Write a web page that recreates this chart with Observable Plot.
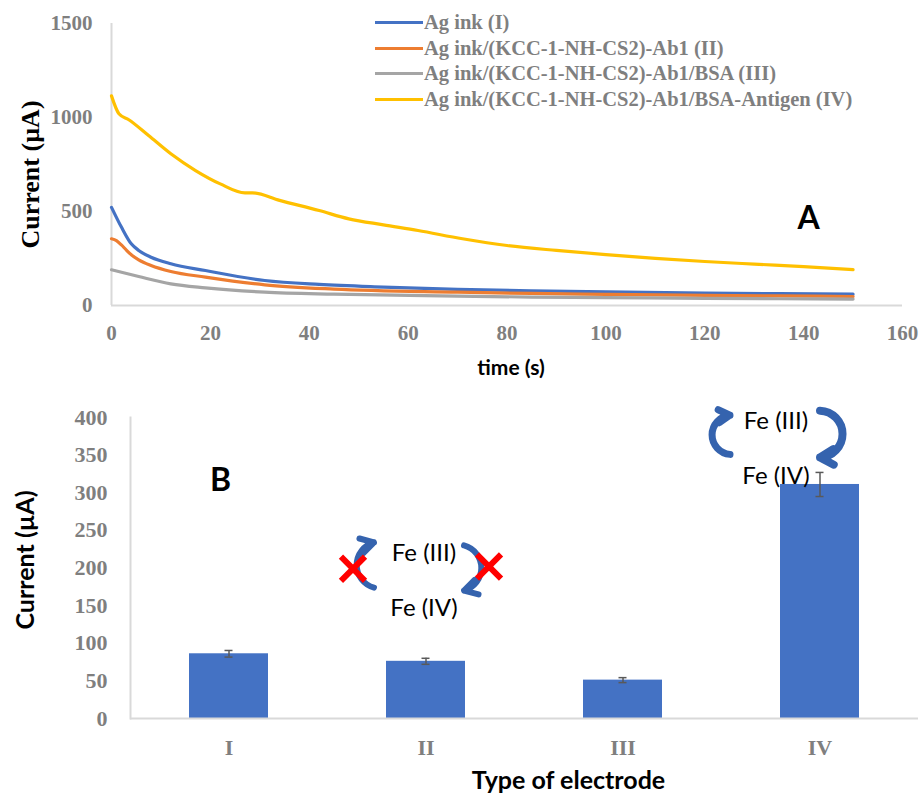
<!DOCTYPE html>
<html><head><meta charset="utf-8">
<script src="https://cdn.jsdelivr.net/npm/d3@7"></script>
<script src="https://cdn.jsdelivr.net/npm/@observablehq/plot@0.6"></script>
<style>
body{margin:0;background:#fff;}
#wrap{position:relative;width:921px;height:795px;overflow:hidden;background:#fff;}
#legend{position:absolute;left:375px;top:10px;font-family:"Liberation Serif","Times New Roman",serif;font-weight:bold;font-size:20.5px;color:#7f7f7f;line-height:25.5px;}
.row{display:flex;align-items:center;white-space:nowrap;}
.sw{width:48px;height:3px;margin-right:1px;}
#top,#bottom{position:absolute;left:0;}
#top{top:0;} #bottom{top:385px;}
</style></head>
<body><div id="wrap"><div id="top"></div><div id="bottom"></div><div id="legend"></div></div>
<script>
// ---------- Panel A data ----------
const seriesNames = ["Ag ink (I)", "Ag ink/(KCC-1-NH-CS2)-Ab1 (II)", "Ag ink/(KCC-1-NH-CS2)-Ab1/BSA (III)", "Ag ink/(KCC-1-NH-CS2)-Ab1/BSA-Antigen (IV)"];
const seriesColors = ["#4472C4", "#ED7D31", "#A5A5A5", "#FFC000"];
const tI = [0, 2, 4, 5.5, 8, 12, 19, 31, 42, 55, 70, 85, 100, 120, 135, 150];
const vI = [522, 417, 328, 293, 257, 222, 186, 133, 112, 98, 86, 78, 72, 66, 63, 60];
const tII = [0, 1, 2, 3, 4, 5.5, 8, 12, 19, 31, 45, 70, 85, 100, 120, 135, 150];
const vII = [355, 345, 322, 295, 270, 243, 213, 181, 151, 110, 87, 71, 64, 59, 54, 51, 48];
const tIII = [0, 5.5, 12, 19, 31, 45, 70, 85, 100, 120, 135, 150];
const vIII = [190, 154, 115, 94, 71, 60, 50, 45, 42, 38, 36, 34];
const tIV = [0, 1.5, 3.5, 7.5, 12, 17, 22, 27, 28.5, 34, 42, 48, 55, 62, 71, 80, 90, 100, 110, 120, 130, 140, 150];
const vIV = [1115, 1020, 988, 904, 807, 718, 647, 599, 599, 559, 505, 461, 429, 399, 355, 319, 293, 271, 251, 234, 220, 207, 191];
const xTicksA = [0, 20, 40, 60, 80, 100, 120, 140, 160];
const yTicksA = [0, 500, 1000, 1500];

// ---------- Panel B data ----------
const categories = ["I", "II", "III", "IV"];
const means = [86, 76, 51, 311];
const errs = [4.4, 4, 3.3, 16];
const yTicksB = [0, 50, 100, 150, 200, 250, 300, 350, 400];
const feLabels = [
  {cat: "II", y: 219, label: "Fe (III)", group: "II"},
  {cat: "II", y: 146, label: "Fe (IV)", group: "II"},
  {cat: "IV", y: 395, label: "Fe (III)", group: "IV"},
  {cat: "IV", y: 322, label: "Fe (IV)", group: "IV"}
];
const arrows = [
  {cat: "II", y1: 174, y2: 234, dx: -52, bend: 75, w: 6},
  {cat: "II", y1: 230, y2: 170, dx: 38, bend: 75, w: 6},
  {cat: "IV", y1: 351, y2: 403, dx: -90, bend: 85, w: 7},
  {cat: "IV", y1: 409, y2: 347, dx: 0, bend: 88, w: 8}
];
const crosses = [
  {cat: "II", y: 199, dx: -73},
  {cat: "II", y: 202, dx: 63}
];

const serif = "'Liberation Serif','Times New Roman',serif";
const sans = "Lato, 'Open Sans', sans-serif";
const gray = "#7f7f7f";

const tArr = [tI, tII, tIII, tIV], vArr = [vI, vII, vIII, vIV];
const lineData = [];
seriesNames.forEach((s, k) => tArr[k].forEach((t, i) => lineData.push({series: s, t, v: vArr[k][i]})));

const topPlot = Plot.plot({
  width: 921, height: 385,
  marginLeft: 111, marginRight: 19, marginTop: 23, marginBottom: 80,
  style: {background: "transparent", overflow: "visible", fontFamily: serif},
  x: {domain: [0, 160]},
  y: {domain: [0, 1500]},
  color: {domain: seriesNames, range: seriesColors},
  marks: [
    Plot.ruleY([0], {stroke: "#d9d9d9", strokeWidth: 2}),
    Plot.ruleX([0], {stroke: "#d9d9d9", strokeWidth: 2}),
    Plot.axisX({ticks: xTicksA, tickFormat: d => String(d), tickSize: 0, tickPadding: 20, label: null, fontSize: 21, fontWeight: "bold", fill: gray, fontFamily: serif}),
    Plot.axisY({ticks: yTicksA, tickFormat: d => String(d), tickSize: 0, tickPadding: 19, label: null, fontSize: 21, fontWeight: "bold", fill: gray, fontFamily: serif}),
    Plot.line(lineData, {x: "t", y: "v", z: "series", stroke: "series", strokeWidth: 3.2, curve: "monotone-x"}),
    Plot.text(["Current (µA)"], {frameAnchor: "left", textAnchor: "middle", lineAnchor: "middle", rotate: -90, dx: -81, dy: 10, fontSize: 26, fontWeight: "bold", fontFamily: serif, fill: "black"}),
    Plot.text(["time (s)"], {frameAnchor: "bottom", textAnchor: "middle", lineAnchor: "middle", dy: 63, dx: 4, fontSize: 21, fontWeight: "bold", fontFamily: sans, fill: "black"}),
    Plot.text(["A"], {frameAnchor: "top-left", textAnchor: "middle", lineAnchor: "middle", dx: 697, dy: 195, fontSize: 32, fontWeight: "bold", fontFamily: sans, fill: "black"})
  ]
});
document.getElementById("top").appendChild(topPlot);

const legend = document.getElementById("legend");
seriesNames.forEach((s, i) => {
  const row = document.createElement("div"); row.className = "row";
  const sw = document.createElement("span"); sw.className = "sw"; sw.style.background = seriesColors[i];
  const tx = document.createElement("span"); tx.textContent = s;
  row.appendChild(sw); row.appendChild(tx); legend.appendChild(row);
});

const barData = categories.map((c, i) => ({cat: c, mean: means[i], err: errs[i]}));
const arrowColor = "#3563AE";

const bottomPlot = Plot.plot({
  width: 921, height: 410,
  marginLeft: 130, marginRight: 3, marginTop: 32, marginBottom: 77,
  style: {background: "transparent", overflow: "visible", fontFamily: serif},
  x: {domain: categories, paddingInner: 0.6, paddingOuter: 0.3},
  y: {domain: [0, 400]},
  marks: [
    Plot.frame({anchor: "left", stroke: "#d9d9d9", strokeWidth: 2}),
    Plot.barY(barData, {x: "cat", y: "mean", fill: "#4472C4"}),
    Plot.ruleY([0], {stroke: "#d9d9d9", strokeWidth: 2}),
    Plot.ruleX(barData, {x: "cat", y1: d => d.mean - d.err, y2: d => d.mean + d.err, stroke: "#595959", strokeWidth: 1.5}),
    Plot.tickY(barData, {x: "cat", y: d => d.mean - d.err, insetLeft: 35.5, insetRight: 35.5, stroke: "#595959", strokeWidth: 1.5}),
    Plot.tickY(barData, {x: "cat", y: d => d.mean + d.err, insetLeft: 35.5, insetRight: 35.5, stroke: "#595959", strokeWidth: 1.5}),
    Plot.axisX({tickSize: 0, tickPadding: 21, label: null, fontSize: 22, fontWeight: "bold", fill: gray, fontFamily: serif}),
    Plot.axisY({ticks: yTicksB, tickFormat: d => String(d), tickSize: 0, tickPadding: 23, label: null, fontSize: 22, fontWeight: "bold", fill: gray, fontFamily: serif}),
    Plot.text(["Current (µA)"], {frameAnchor: "left", textAnchor: "middle", lineAnchor: "middle", rotate: -90, dx: -105, dy: -8, fontSize: 25, fontWeight: "bold", fontFamily: sans, fill: "black"}),
    Plot.text(["Type of electrode"], {frameAnchor: "bottom", textAnchor: "middle", lineAnchor: "middle", dx: 44, dy: 62, fontSize: 25, fontWeight: "bold", fontFamily: sans, fill: "black"}),
    Plot.text(["B"], {frameAnchor: "top-left", textAnchor: "middle", lineAnchor: "middle", dx: 90, dy: 63, fontSize: 32, fontWeight: "bold", fontFamily: sans, fill: "black"}),
    ...arrows.map(a => Plot.arrow([a], {x1: "cat", y1: "y1", x2: "cat", y2: "y2", dx: a.dx, bend: a.bend, stroke: arrowColor, strokeWidth: a.w, headLength: 12})),
    ...crosses.map(c => Plot.dot([c], {x: "cat", y: "y", dx: c.dx, symbol: "times", r: 11, stroke: "#FF0000", strokeWidth: 6})),
    Plot.text(feLabels.filter(d => d.group === "II"), {x: "cat", y: "y", text: "label", dx: -2, fontSize: 24, fontFamily: sans, fill: "black"}),
    Plot.text(feLabels.filter(d => d.group === "IV"), {x: "cat", y: "y", text: "label", dx: -44, fontSize: 24, fontFamily: sans, fill: "black"})
  ]
});
document.getElementById("bottom").appendChild(bottomPlot);
</script>
</body></html>
